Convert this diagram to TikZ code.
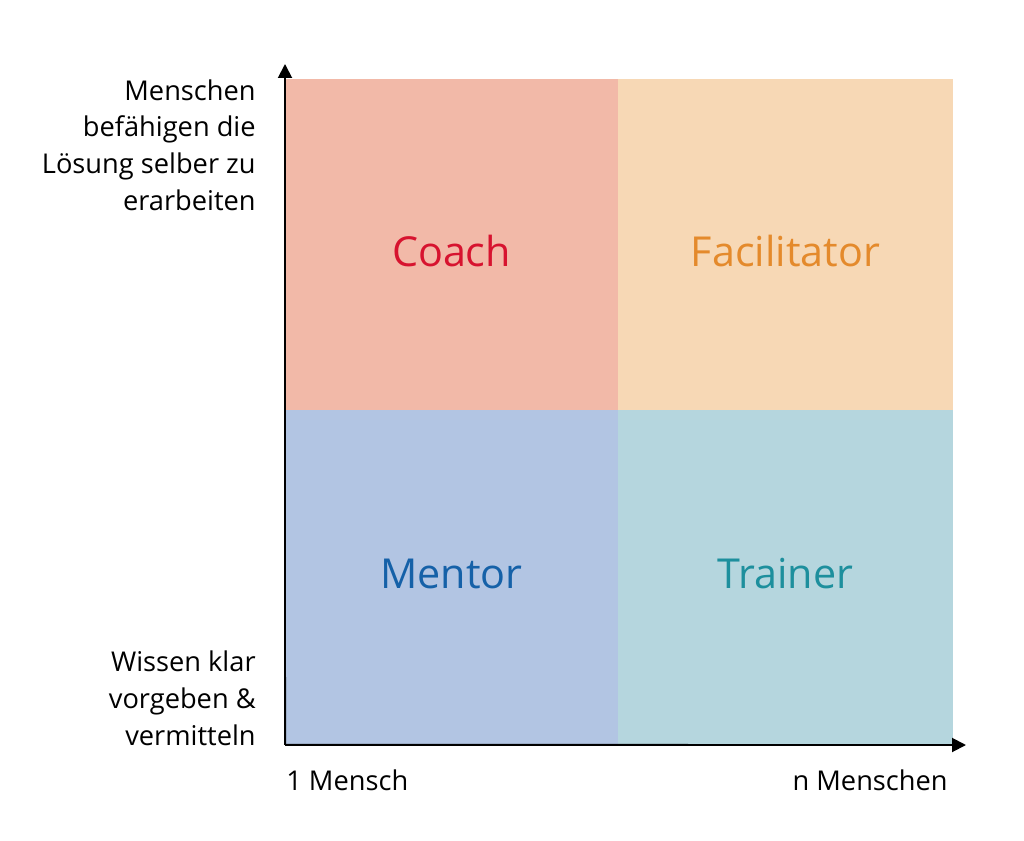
\documentclass[tikz,border=0pt]{standalone}
\usepackage{fontspec}
\setmainfont{Open Sans}
\usepackage{tikz}
\usetikzlibrary{arrows.meta, positioning}

\definecolor{coachbg}{HTML}{F2B9A8}
\definecolor{facilbg}{HTML}{F7D8B5}
\definecolor{mentorbg}{HTML}{B2C5E3}
\definecolor{trainerbg}{HTML}{B5D6DE}
\definecolor{coachfg}{HTML}{D7132F}
\definecolor{facilfg}{HTML}{E48A2C}
\definecolor{mentorfg}{HTML}{1561A8}
\definecolor{trainerfg}{HTML}{1D8F9D}

\begin{document}
\begin{tikzpicture}[x=0.02cm,y=-0.02cm,>={Triangle[length=0.28cm,width=0.28cm]}]
				\tikzstyle{quadrant} = [inner sep=0pt, outer sep=0pt]
				\tikzstyle{role} = [inner sep=0pt, font=\fontsize{23.5}{28}\selectfont]
				\tikzstyle{axislabel} = [inner sep=0pt, font=\fontsize{15.5}{21}\selectfont]

				\useasboundingbox (0,0) rectangle (1024,841);

				\node[quadrant, fill=coachbg, minimum width=6.66cm, minimum height=6.62cm] (coach) at (451.5,244.5) {};
				\node[quadrant, fill=facilbg, minimum width=6.7cm, minimum height=6.62cm] (facilitator) [right=0pt of coach] {};
				\node[quadrant, fill=mentorbg, minimum width=6.66cm, minimum height=6.7cm] (mentor) [below=0pt of coach] {};
				\node[quadrant, fill=trainerbg, minimum width=6.7cm, minimum height=6.7cm] (trainer) [right=0pt of mentor] {};

				\node[role, text=coachfg] (coachtext) at ([yshift=-0.13cm]coach.center) {Coach};
				\node[role, text=facilfg] (facilitatortext) at ([yshift=-0.13cm]facilitator.center) {Facilitator};
				\node[role, text=mentorfg] (mentortext) at ([yshift=0.07cm]mentor.center) {Mentor};
				\node[role, text=trainerfg] (trainertext) at ([yshift=0.07cm]trainer.center) {Trainer};

				\coordinate (origin) at (mentor.south west);
				\coordinate (ytip) at (285,64);
				\coordinate (xtip) at (966,745);

				\draw[->, line width=1.1pt] (origin) -- (ytip);
				\draw[->, line width=1.1pt] (origin) -- (xtip);

				\node[axislabel, align=right, anchor=north east] (high) at (256,79) {Menschen\\bef\"ahigen die\\L\"osung selber zu\\erarbeiten};
				\node[axislabel, align=right, anchor=south east] (low) at (256,746) {Wissen klar\\vorgeben \&\\vermitteln};
				\node[axislabel, anchor=west] (one) at (286,780) {1 Mensch};
				\node[axislabel, anchor=east] (many) at (948,780) {n Menschen};
			\end{tikzpicture}
\end{document}
